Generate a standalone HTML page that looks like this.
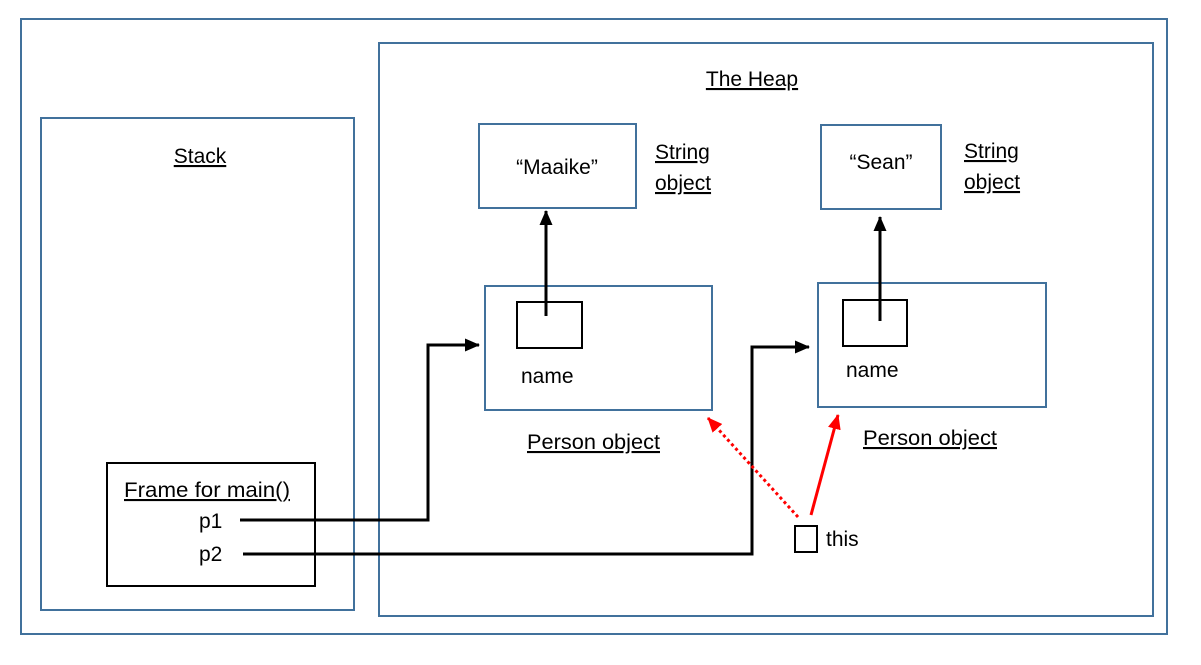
<!DOCTYPE html>
<html><head><meta charset="utf-8"><style>
html,body{margin:0;padding:0;background:#fff;}
svg{display:block;}
text{font-family:"Liberation Sans",sans-serif;font-size:21px;fill:#000;}
</style></head><body>
<svg width="1201" height="665" viewBox="0 0 1201 665" xmlns="http://www.w3.org/2000/svg">
<defs>
<marker id="ab2" markerWidth="15" markerHeight="13" refX="14" refY="6.5" orient="auto" markerUnits="userSpaceOnUse"><path d="M0,0 L15,6.5 L0,13 Z" fill="#000"/></marker>
<marker id="ar" markerWidth="15" markerHeight="13" refX="14" refY="6.5" orient="auto" markerUnits="userSpaceOnUse"><path d="M0,0 L15,6.5 L0,13 Z" fill="#f00"/></marker>
</defs>
<g fill="none" stroke="#41719c" stroke-width="2">
<rect x="21" y="19" width="1146" height="615"/>
<rect x="379" y="43" width="774" height="573"/>
<rect x="41" y="118" width="313" height="492"/>
<rect x="479" y="124" width="157" height="84"/>
<rect x="821" y="125" width="120" height="84"/>
<rect x="485" y="286" width="227" height="124"/>
<rect x="818" y="283" width="228" height="124"/>
</g>
<g fill="none" stroke="#000" stroke-width="2">
<rect x="517" y="302" width="65" height="46"/>
<rect x="843" y="300" width="64" height="46"/>
<rect x="107" y="463" width="208" height="123"/>
<rect x="795" y="526" width="22" height="26"/>
</g>
<g fill="none" stroke="#000" stroke-width="3">
<line x1="546" y1="316" x2="546" y2="211" marker-end="url(#ab2)"/>
<line x1="880" y1="321" x2="880" y2="217" marker-end="url(#ab2)"/>
<polyline points="240,520 428,520 428,345 479,345" marker-end="url(#ab2)"/>
<polyline points="243,554 752,554 752,347 809,347" marker-end="url(#ab2)"/>
</g>
<line x1="798" y1="517" x2="708" y2="418" stroke="#f00" stroke-width="3" stroke-dasharray="3,3" marker-end="url(#ar)"/>
<line x1="811" y1="515" x2="838" y2="415" stroke="#f00" stroke-width="3" marker-end="url(#ar)"/>
<text x="752" y="86" text-anchor="middle" text-decoration="underline">The Heap</text>
<text x="200" y="163" text-anchor="middle" text-decoration="underline">Stack</text>
<text x="655" y="159" text-decoration="underline">String</text>
<text x="655" y="190" text-decoration="underline">object</text>
<text x="964" y="158" text-decoration="underline">String</text>
<text x="964" y="189" text-decoration="underline">object</text>
<text x="527" y="449" text-decoration="underline" textLength="133" lengthAdjust="spacingAndGlyphs">Person object</text>
<text x="863" y="445" text-decoration="underline" textLength="134" lengthAdjust="spacingAndGlyphs">Person object</text>
<text x="124" y="497" text-decoration="underline" textLength="166" lengthAdjust="spacingAndGlyphs">Frame for main()</text>
<text x="557" y="174" text-anchor="middle">“Maaike”</text>
<text x="881" y="169" text-anchor="middle">“Sean”</text>
<text x="521" y="383">name</text>
<text x="846" y="377">name</text>
<text x="199" y="528">p1</text>
<text x="199" y="561">p2</text>
<text x="826" y="546">this</text>
</svg>
</body></html>
